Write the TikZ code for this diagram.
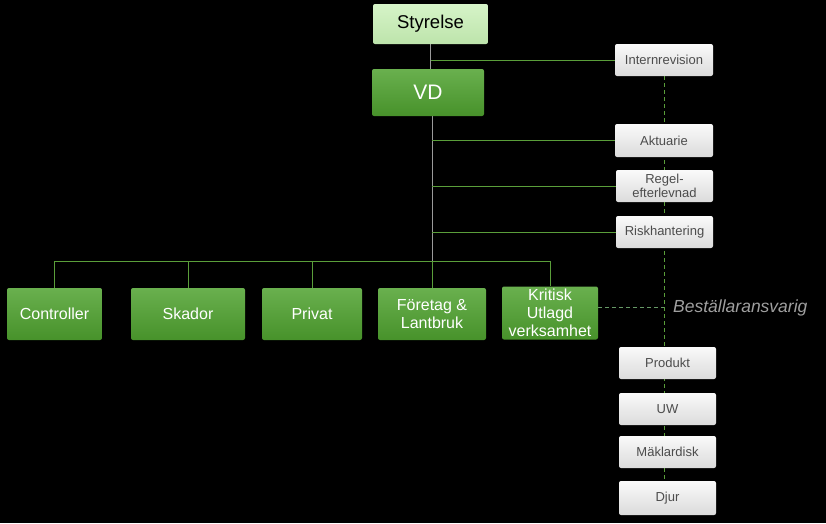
\documentclass[tikz,border=0pt]{standalone}
\usepackage{fontspec}
\setmainfont{Liberation Sans}
\pgfdeclarelayer{canvas}
\pgfdeclarelayer{background}
\pgfsetlayers{canvas,background,main}
\definecolor{dgreen}{HTML}{4FA22F}
\definecolor{lgreen}{HTML}{C4EFB0}
\definecolor{lgray}{HTML}{EBEBEB}
\definecolor{linegreen}{HTML}{5A9E3A}
\definecolor{linegray}{HTML}{9A9A9A}
\begin{document}
\begin{tikzpicture}[x=1pt,y=-1pt,
  box/.style={rounded corners=2pt, inner sep=0pt, align=center, draw=none},
  gbox/.style={box, top color=dgreen!85!white, bottom color=dgreen!90!black, text=white, font=\fontsize{16}{18}\selectfont},
  sbox/.style={box, top color=white!96!gray, bottom color=lgray!85!gray, text=black!70, font=\fontsize{13}{14.5}\selectfont},
  gline/.style={draw=linegreen, line width=0.8pt},
  grline/.style={draw=linegray, line width=0.8pt},
  dline/.style={draw=linegreen, line width=0.8pt, dash pattern=on 4pt off 3pt}]
\begin{pgfonlayer}{canvas}
\fill[black] (0,0) rectangle (826,523);
\end{pgfonlayer}
\useasboundingbox (0,0) rectangle (826,523);
% top
\node[box, minimum width=115pt, minimum height=40pt, top color=lgreen!70!white, bottom color=lgreen!90!gray, text=black, font=\fontsize{18.5}{20}\selectfont] (sty) at (430.5,24) {Styrelse};
\node[gbox, minimum width=112pt, minimum height=47pt, font=\fontsize{21}{22}\selectfont] (vd) at (428,92.5) {VD};
% staff boxes
\node[sbox, minimum width=98pt, minimum height=32pt] (ir) at (664,60) {Internrevision};
\node[sbox, minimum width=98pt, minimum height=33pt] (akt) at (664,140.5) {Aktuarie};
\node[sbox, minimum width=97pt, minimum height=32pt] (reg) at (664.5,186) {Regel-\\efterlevnad};
\node[sbox, minimum width=97pt, minimum height=32pt] (risk) at (664.5,232) {Riskhantering};
% line units
\node[gbox, minimum width=95pt, minimum height=52pt] (ctrl) at (54.5,314) {Controller};
\node[gbox, minimum width=114pt, minimum height=52pt] (ska) at (188,314) {Skador};
\node[gbox, minimum width=100pt, minimum height=52pt] (pri) at (312,314) {Privat};
\node[gbox, minimum width=108pt, minimum height=52pt] (for) at (432,314) {Företag \&\\Lantbruk};
\node[gbox, minimum width=96pt, minimum height=53pt] (krit) at (550,313) {Kritisk\\Utlagd\\verksamhet};
% lower staff boxes
\node[sbox, minimum width=97pt, minimum height=32pt] (prod) at (667.5,363) {Produkt};
\node[sbox, minimum width=97pt, minimum height=32pt] (uw) at (667.5,409) {UW};
\node[sbox, minimum width=97pt, minimum height=32pt] (mak) at (667.5,452) {Mäklardisk};
\node[sbox, minimum width=97pt, minimum height=34pt] (djur) at (667.5,498) {Djur};
\node[anchor=west, text=gray!75, font=\itshape\fontsize{17.5}{19}\selectfont, inner sep=0pt] (best) at (673,308) {Beställaransvarig};
\coordinate (bar) at (432,261);
\coordinate (kd) at (664,307);
\begin{pgfonlayer}{background}
\draw[grline] (sty.south) -- (sty.south |- vd.north);
\draw[gline] (sty.south |- ir.west) -- (ir.west);
\draw[grline] (vd.south -| bar) -- (bar);
\draw[gline] (bar |- akt.west) -- (akt.west);
\draw[gline] (bar |- reg.west) -- (reg.west);
\draw[gline] (bar |- risk.west) -- (risk.west);
\draw[gline] (ctrl.north) -- (ctrl.north |- bar) -- (krit.north |- bar) -- (krit.north);
\draw[gline] (ska.north) -- (ska.north |- bar);
\draw[gline] (pri.north) -- (pri.north |- bar);
\draw[gline] (for.north) -- (bar);
\draw[dline] (ir.south) -- (ir.south |- djur.north);
\draw[dline, draw=gray!80!green] (krit.east |- kd) -- (kd);
\end{pgfonlayer}
\end{tikzpicture}
\end{document}
